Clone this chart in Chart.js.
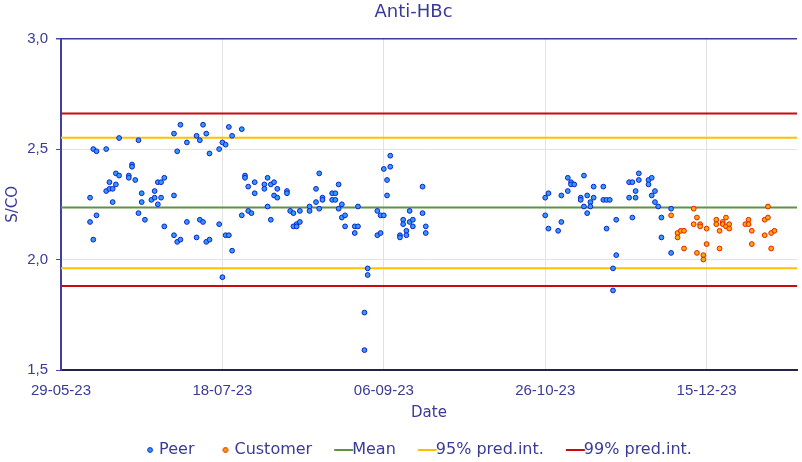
<!DOCTYPE html>
<html>
<head>
<meta charset="utf-8">
<title>Anti-HBc</title>
<script src="https://cdn.jsdelivr.net/npm/chart.js@4.4.1/dist/chart.umd.min.js"></script>
<style>
  html, body { margin: 0; padding: 0; background: #fff; }
  #wrap { width: 802px; height: 462px; }
</style>
</head>
<body>
<div id="wrap"><canvas id="qcChart"></canvas></div>
<script>
// peer lab results (two runs on most days)
const peerDates = [
  "2023-06-07","2023-06-07","2023-06-08","2023-06-08","2023-06-09","2023-06-09",
  "2023-06-12","2023-06-12","2023-06-13","2023-06-13","2023-06-14","2023-06-14",
  "2023-06-15","2023-06-15","2023-06-16","2023-06-16","2023-06-19","2023-06-19",
  "2023-06-20","2023-06-20","2023-06-21","2023-06-22","2023-06-22","2023-06-23",
  "2023-06-23","2023-06-24","2023-06-26","2023-06-27","2023-06-27","2023-06-28",
  "2023-06-28","2023-06-29","2023-06-29","2023-06-30","2023-06-30",
  "2023-07-03","2023-07-03","2023-07-03","2023-07-04","2023-07-04","2023-07-05",
  "2023-07-05","2023-07-07","2023-07-07","2023-07-10","2023-07-10","2023-07-11",
  "2023-07-11","2023-07-12","2023-07-12","2023-07-13","2023-07-13","2023-07-14",
  "2023-07-14","2023-07-17","2023-07-17","2023-07-18","2023-07-18","2023-07-19",
  "2023-07-19","2023-07-20","2023-07-20","2023-07-21","2023-07-21","2023-07-24",
  "2023-07-24","2023-07-25","2023-07-25","2023-07-26","2023-07-26","2023-07-27",
  "2023-07-28","2023-07-28","2023-07-31","2023-07-31",
  "2023-08-01","2023-08-01","2023-08-02","2023-08-02","2023-08-03","2023-08-03",
  "2023-08-04","2023-08-04","2023-08-07","2023-08-07","2023-08-08","2023-08-09",
  "2023-08-09","2023-08-10","2023-08-10","2023-08-11","2023-08-11","2023-08-14",
  "2023-08-14","2023-08-16","2023-08-16","2023-08-17","2023-08-17","2023-08-18",
  "2023-08-18","2023-08-21","2023-08-21","2023-08-22","2023-08-22","2023-08-23",
  "2023-08-23","2023-08-24","2023-08-24","2023-08-25","2023-08-25","2023-08-28",
  "2023-08-28","2023-08-29","2023-08-29","2023-08-31","2023-08-31",
  "2023-09-01","2023-09-01","2023-09-04","2023-09-04","2023-09-05","2023-09-05",
  "2023-09-06","2023-09-06","2023-09-07","2023-09-07","2023-09-08","2023-09-08",
  "2023-09-11","2023-09-11","2023-09-12","2023-09-12","2023-09-13","2023-09-13",
  "2023-09-14","2023-09-14","2023-09-15","2023-09-15","2023-09-18","2023-09-18",
  "2023-09-19","2023-09-19",
  "2023-10-26","2023-10-26","2023-10-27","2023-10-27","2023-10-30","2023-10-31",
  "2023-10-31","2023-11-02","2023-11-02","2023-11-03","2023-11-03","2023-11-04",
  "2023-11-06","2023-11-06","2023-11-07","2023-11-07","2023-11-08","2023-11-08",
  "2023-11-09","2023-11-09","2023-11-10","2023-11-10","2023-11-13","2023-11-13",
  "2023-11-14","2023-11-14","2023-11-15","2023-11-16","2023-11-16","2023-11-17",
  "2023-11-17","2023-11-21","2023-11-21","2023-11-22","2023-11-22","2023-11-23",
  "2023-11-23","2023-11-24","2023-11-24","2023-11-27","2023-11-27","2023-11-28",
  "2023-11-28","2023-11-29","2023-11-29","2023-11-30","2023-12-01","2023-12-01",
  "2023-12-04","2023-12-04"
];
const peerValues = [
  2.28, 2.17, 2.50, 2.09, 2.49, 2.20,
  2.50, 2.31, 2.35, 2.32, 2.32, 2.26,
  2.39, 2.34, 2.55, 2.38, 2.38, 2.37,
  2.43, 2.42, 2.36, 2.54, 2.21, 2.30,
  2.26, 2.18, 2.27, 2.31, 2.28, 2.35,
  2.25, 2.35, 2.28, 2.37, 2.15,
  2.57, 2.29, 2.11, 2.49, 2.08, 2.61,
  2.09, 2.53, 2.17, 2.56, 2.10, 2.54,
  2.18, 2.61, 2.17, 2.57, 2.08, 2.48,
  2.09, 2.50, 2.16, 2.53, 1.92, 2.52,
  2.11, 2.60, 2.11, 2.56, 2.04, 2.59,
  2.20, 2.38, 2.37, 2.33, 2.22, 2.21,
  2.35, 2.30, 2.34, 2.32,
  2.37, 2.24, 2.34, 2.18, 2.35, 2.29,
  2.32, 2.28, 2.31, 2.30, 2.22, 2.21,
  2.15, 2.16, 2.15, 2.22, 2.17, 2.24,
  2.22, 2.32, 2.26, 2.39, 2.23, 2.28,
  2.27, 2.30, 2.27, 2.30, 2.27, 2.34,
  2.23, 2.25, 2.19, 2.20, 2.15, 2.15,
  2.12, 2.24, 2.15, 1.76, 1.59,
  1.96, 1.93, 2.22, 2.11, 2.20, 2.12,
  2.41, 2.20, 2.36, 2.29, 2.47, 2.42,
  2.11, 2.10, 2.18, 2.16, 2.13, 2.11,
  2.22, 2.17, 2.18, 2.15, 2.33, 2.21,
  2.15, 2.12,
  2.28, 2.20, 2.30, 2.14, 2.13, 2.29,
  2.17, 2.37, 2.31, 2.35, 2.34, 2.34,
  2.28, 2.27, 2.38, 2.24, 2.29, 2.21,
  2.26, 2.24, 2.33, 2.28, 2.33, 2.27,
  2.27, 2.14, 2.27, 1.96, 1.86, 2.18,
  2.02, 2.35, 2.28, 2.35, 2.19, 2.31,
  2.28, 2.39, 2.36, 2.36, 2.34, 2.37,
  2.29, 2.31, 2.26, 2.24, 2.19, 2.10,
  2.23, 2.03
];

// customer results
const customerDates = [
  "2023-12-04","2023-12-06","2023-12-06","2023-12-07","2023-12-08","2023-12-08",
  "2023-12-11","2023-12-11","2023-12-12","2023-12-12","2023-12-13","2023-12-13",
  "2023-12-14","2023-12-14","2023-12-15","2023-12-15","2023-12-18","2023-12-18",
  "2023-12-19","2023-12-19","2023-12-20","2023-12-20","2023-12-21","2023-12-21",
  "2023-12-22","2023-12-22","2023-12-27","2023-12-28","2023-12-28","2023-12-29",
  "2023-12-29","2024-01-02","2024-01-02","2024-01-03","2024-01-03","2024-01-04",
  "2024-01-04","2024-01-05"
];
const customerValues = [
  2.20, 2.12, 2.10, 2.13, 2.13, 2.05,
  2.23, 2.16, 2.19, 2.03, 2.16, 2.15,
  2.02, 2.00, 2.14, 2.07, 2.18, 2.16,
  2.13, 2.05, 2.17, 2.16, 2.19, 2.15,
  2.16, 2.14, 2.16, 2.18, 2.16, 2.13,
  2.07, 2.18, 2.11, 2.24, 2.19, 2.12,
  2.05, 2.13
];

// control limits
const meanValue = 2.236;
const pred95 = [1.961, 2.551];
const pred99 = [1.880, 2.661];

// axis
const axisStart = "2023-05-29";
const axisEnd = "2024-01-12";
const tickDates = ["2023-05-29", "2023-07-18", "2023-09-06", "2023-10-26", "2023-12-15"];

const TEXT = "#3a3a98";
const SANS = "'Liberation Sans', Arial, sans-serif";
const WIDE = "'DejaVu Sans', sans-serif";
const DAY = 86400000;
const t0 = Date.parse(axisStart);
const toDays = (s) => (Date.parse(s) - t0) / DAY;
const xMin = 0;
const xMax = toDays(axisEnd);

const fmtDate = (v) => {
  const d = new Date(t0 + v * DAY);
  const p = (n) => String(n).padStart(2, "0");
  return `${p(d.getUTCDate())}-${p(d.getUTCMonth() + 1)}-${p(d.getUTCFullYear() % 100)}`;
};

const points = (dates, values) => dates.map((d, i) => ({ x: toDays(d), y: values[i] }));
const hline = (v) => [{ x: xMin, y: v }, { x: xMax, y: v }];

// small pictures used as legend markers (centred on the legend box)
const legendIcon = (kind, fill, stroke) => {
  const c = document.createElement("canvas");
  c.width = 36;
  c.height = 8;
  const g = c.getContext("2d");
  if (kind === "dot") {
    g.beginPath();
    g.arc(25, 4, 2.4, 0, Math.PI * 2);
    g.fillStyle = fill;
    g.fill();
    g.lineWidth = 1;
    g.strokeStyle = stroke;
    g.stroke();
  } else {
    g.fillStyle = fill;
    g.fillRect(16, 3, 19, 2);
  }
  return c;
};

const lineStyle = (color) => ({
  type: "line",
  borderColor: color,
  backgroundColor: color,
  borderWidth: 2,
  pointRadius: 0,
  pointHoverRadius: 0,
  fill: false,
  tension: 0
});

const datasets = [
  {
    type: "scatter",
    label: "Peer",
    data: points(peerDates, peerValues),
    backgroundColor: "#2f9bff",
    borderColor: "#1020c8",
    borderWidth: 1,
    pointRadius: 2.4,
    icon: legendIcon("dot", "#2f9bff", "#1020c8")
  },
  {
    type: "scatter",
    label: "Customer",
    data: points(customerDates, customerValues),
    backgroundColor: "#ffa800",
    borderColor: "#e02000",
    borderWidth: 1,
    pointRadius: 2.4,
    icon: legendIcon("dot", "#ffa800", "#e02000")
  },
  { ...lineStyle("#5f9146"), label: "Mean", data: hline(meanValue), icon: legendIcon("line", "#5f9146") },
  { ...lineStyle("#ffc000"), label: "95% pred.int.", data: hline(pred95[0]), icon: legendIcon("line", "#ffc000") },
  { ...lineStyle("#ffc000"), label: "95% upper", data: hline(pred95[1]), hideInLegend: true },
  { ...lineStyle("#cc0a0a"), label: "99% pred.int.", data: hline(pred99[0]), icon: legendIcon("line", "#cc0a0a") },
  { ...lineStyle("#cc0a0a"), label: "99% upper", data: hline(pred99[1]), hideInLegend: true }
];

new Chart(document.getElementById("qcChart"), {
  data: { datasets },
  options: {
    responsive: true,
    maintainAspectRatio: false,
    animation: false,
    layout: { padding: { left: 28, right: 3, top: 0, bottom: -6 } },
    plugins: {
      title: {
        display: true,
        text: "Anti-HBc",
        color: TEXT,
        font: { family: WIDE, size: 18, weight: "normal" },
        padding: { top: 2, bottom: 15 }
      },
      legend: {
        position: "bottom",
        labels: {
          color: TEXT,
          font: { family: WIDE, size: 16 },
          usePointStyle: true,
          boxWidth: 20,
          boxHeight: 8,
          padding: 16,
          generateLabels: (chart) =>
            chart.data.datasets
              .map((ds, i) => ({
                text: ds.label,
                pointStyle: ds.icon,
                fontColor: TEXT,
                lineWidth: 0,
                datasetIndex: i,
                hidden: ds.hideInLegend
              }))
              .filter((item) => !item.hidden)
        }
      },
      tooltip: { enabled: false }
    },
    scales: {
      x: {
        type: "linear",
        min: xMin,
        max: xMax,
        afterBuildTicks: (scale) => {
          scale.ticks = tickDates.map((d) => ({ value: toDays(d) }));
        },
        ticks: {
          color: TEXT,
          font: { family: SANS, size: 15 },
          maxRotation: 0,
          autoSkip: false,
          padding: 12,
          callback: (v) => fmtDate(v)
        },
        grid: { color: "#e2e2e2", drawTicks: false, lineWidth: 1 },
        border: { color: "#23234a", width: 2 },
        title: {
          display: true,
          text: "Date",
          color: TEXT,
          font: { family: WIDE, size: 15 },
          padding: { top: -8, bottom: 4 }
        }
      },
      y: {
        min: 1.5,
        max: 3.0,
        afterFit: (scale) => {
          scale.width = 33;
        },
        ticks: {
          stepSize: 0.5,
          color: TEXT,
          font: { family: SANS, size: 15 },
          padding: 8,
          callback: (v) => v.toFixed(1).replace(".", ",")
        },
        grid: {
          color: (ctx) => (ctx.tick && ctx.tick.value === 3 ? "#3a3aa0" : "#e2e2e2"),
          lineWidth: (ctx) => (ctx.tick && ctx.tick.value === 3 ? 1.5 : 1),
          tickColor: "#4848a8",
          tickLength: 5
        },
        border: { color: "#4040a0", width: 2 },
        title: {
          display: true,
          text: "S/CO",
          color: TEXT,
          font: { family: WIDE, size: 15 },
          padding: { top: -24, bottom: 0 }
        }
      }
    }
  }
});
</script>
</body>
</html>
